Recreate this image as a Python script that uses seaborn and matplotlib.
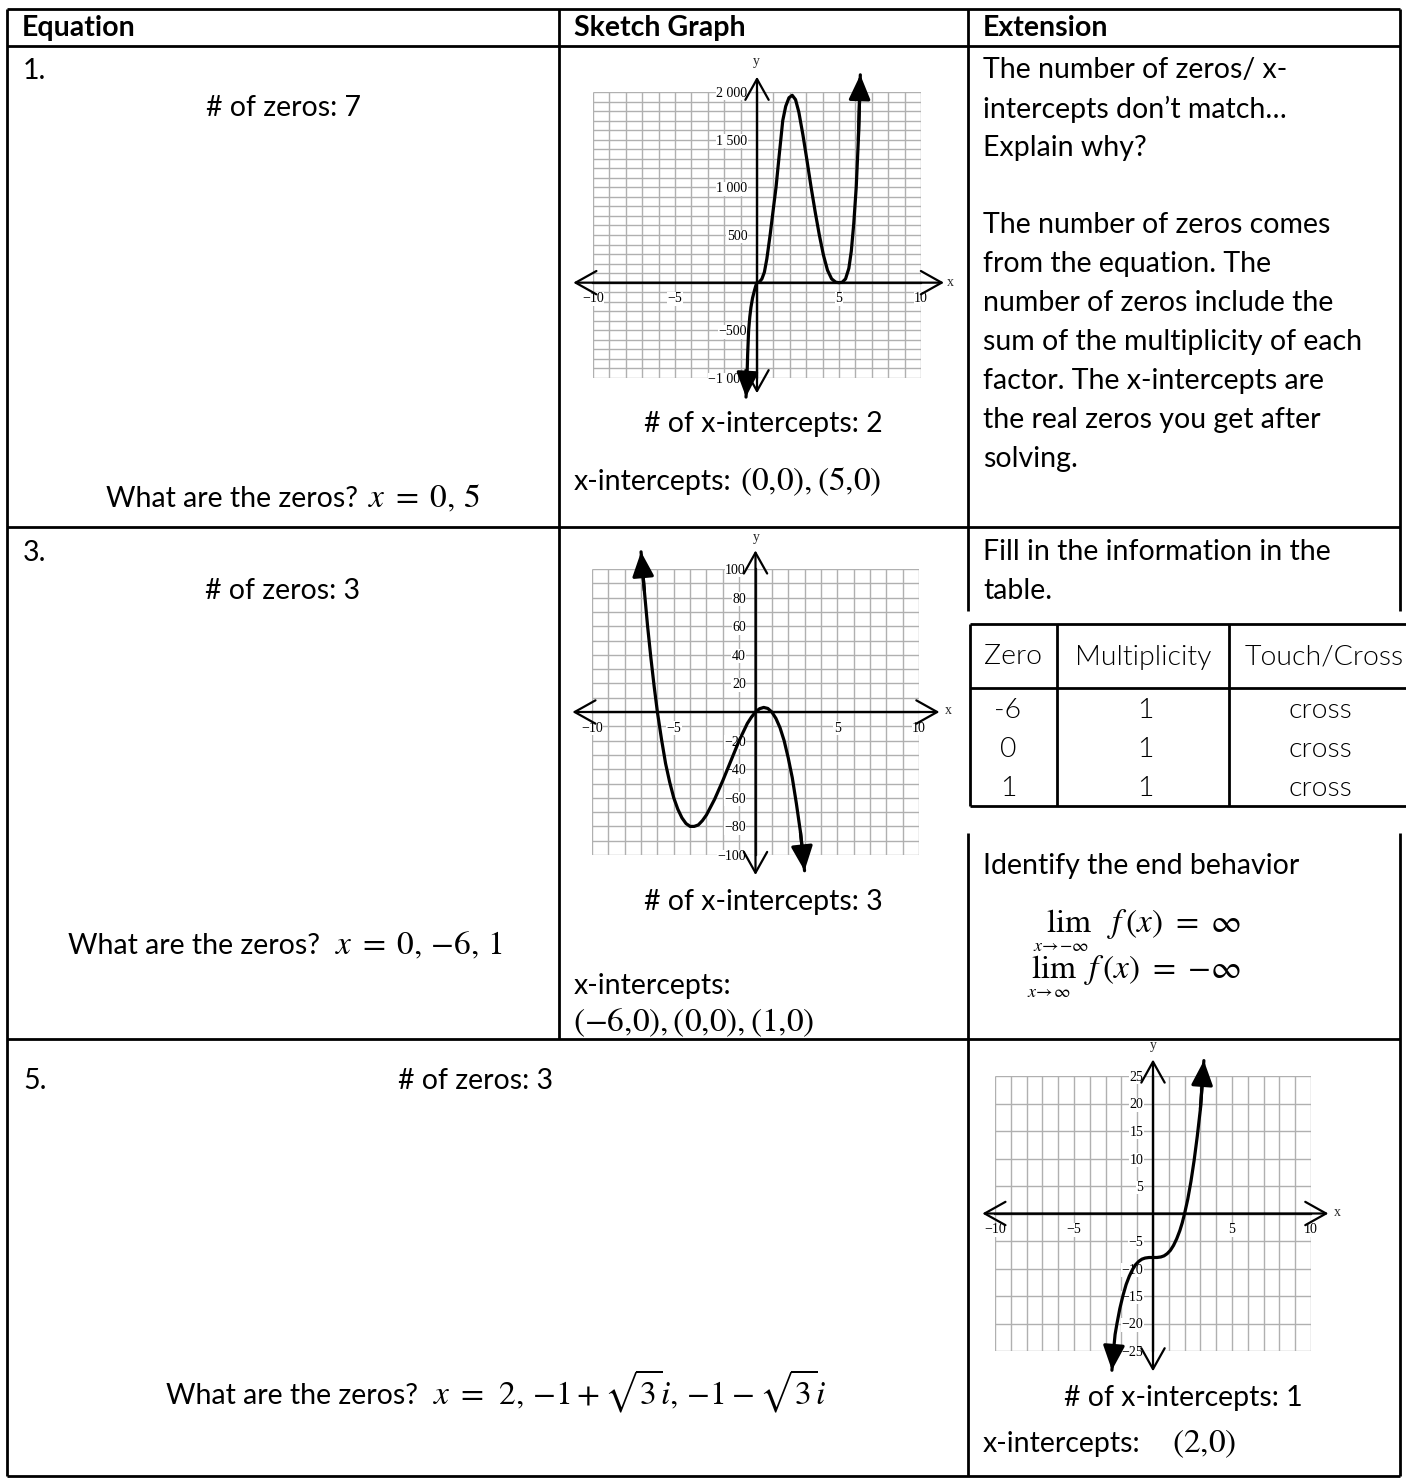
import numpy as np
import matplotlib
matplotlib.use('Agg')
import matplotlib.pyplot as plt
import seaborn as sns
from matplotlib.ticker import FixedLocator, FixedFormatter

# ---- curves read off the worksheet sketches ----
# problem 1: zeros at x = 0 and x = 5
G1_X = [-0.67, -0.63, -0.61, -0.57, -0.51, -0.44, -0.37, -0.27, -0.16, -0.07, 0.0,
        0.15, 0.3, 0.45, 0.6, 0.8, 1.0, 1.16, 1.35, 1.57, 1.75, 1.95, 2.15, 2.35,
        2.55, 2.8, 3.05, 3.3, 3.55, 3.8, 4.05, 4.3, 4.55, 4.8, 5.0, 5.2, 5.4, 5.6,
        5.75, 5.9, 6.05, 6.18, 6.3]
G1_Y = [-1200, -1080, -1000, -750, -500, -360, -260, -160, -85, -30, 0,
        8, 40, 110, 250, 500, 780, 1000, 1330, 1700, 1850, 1940, 1965, 1920,
        1790, 1550, 1280, 1000, 740, 500, 290, 130, 40, 5, 0, 5, 40, 150,
        330, 620, 1000, 1500, 2180]
G1_YTICKS = [-1000, -500, 500, 1000, 1500, 2000]
G1_YLABELS = ['\u22121 000', '\u2212500', '500', '1 000', '1 500', '2 000']

# problem 3: zeros at -6, 0, 1
G2_X = [-7.0, -6.8, -6.6, -6.4, -6.2, -6.0, -5.75, -5.5, -5.25, -5.0, -4.75, -4.5,
        -4.25, -4.0, -3.75, -3.5, -3.25, -3.0, -2.5, -2.0, -1.5, -1.0, -0.5, -0.25,
        0.0, 0.25, 0.5, 0.75, 1.0, 1.25, 1.5, 1.75, 2.0, 2.25, 2.5, 2.75, 3.0]
G2_Y = [112, 85, 60, 38, 18, 0, -19, -36, -49, -60, -68, -74,
        -78, -80, -80, -79, -76, -72, -61, -48, -34, -20, -8, -3.6,
        0, 2.3, 3.2, 2.5, 0, -4.5, -11, -20, -32, -46, -64, -84, -111]
G2_YTICKS = [-100, -80, -60, -40, -20, 20, 40, 60, 80, 100]
G2_YLABELS = ['\u2212100', '\u221280', '\u221260', '\u221240', '\u221220', '20', '40', '60', '80', '100']

# problem 5: single real zero at 2
G3_X = [-2.6, -2.5, -2.4, -2.28, -2.1, -1.9, -1.7, -1.5, -1.3, -1.1, -0.9, -0.7,
        -0.5, -0.25, 0.0, 0.25, 0.5, 0.7, 0.9, 1.1, 1.3, 1.5, 1.7, 1.85, 2.0,
        2.2, 2.4, 2.6, 2.8, 3.0, 3.22]
G3_Y = [-28.5, -25, -22, -20, -17.3, -14.9, -12.9, -11.4, -10.2, -9.3, -8.7, -8.3,
        -8.1, -8.0, -8, -8.0, -7.9, -7.7, -7.3, -6.7, -5.8, -4.6, -3.1, -1.7, 0,
        2.6, 5.8, 9.6, 14, 19, 27.8]
G3_YTICKS = [-25, -20, -15, -10, -5, 5, 10, 15, 20, 25]
G3_YLABELS = ['\u221225', '\u221220', '\u221215', '\u221210', '\u22125', '5', '10', '15', '20', '25']

X_TICKS = [-10, -5, 5, 10]
X_LABELS = ['\u221210', '\u22125', '5', '10']

# multiplicity table
ZEROS = ['-6', '0', '1']
MULTS = ['1', '1', '1']
BEHAV = ['cross', 'cross', 'cross']

sns.set_style('white')
plt.rcParams['font.family'] = ['Lato', 'DejaVu Sans']
plt.rcParams['mathtext.fontset'] = 'stix'

W, H = 1406, 1484
BODY = 20.5
MATH = 24
SERIF = 'Liberation Serif'
GRID = '#b0b0b0'

fig = plt.figure(figsize=(W / 100, H / 100), dpi=100)
bg = fig.add_axes([0, 0, 1, 1])
bg.set_xlim(0, W)
bg.set_ylim(H, 0)
bg.axis('off')


def txt(x, y, s, ha='left', size=BODY, va='center', **kw):
    bg.text(x, y, s, ha=ha, va=va, fontsize=size, color='black', **kw)


def hline(y, x0, x1, lw=2.0):
    bg.plot([x0, x1], [y, y], color='black', lw=lw, solid_capstyle='butt')


def vline(x, y0, y1, lw=2.0):
    bg.plot([x, x], [y0, y1], color='black', lw=lw, solid_capstyle='butt')


# main table frame
for yy in (9, 46, 527, 1039, 1476):
    hline(yy, 7, 1400)
vline(7, 9, 1476)
vline(559, 9, 1039)
vline(968, 9, 611)
vline(968, 833, 1476)
vline(1400, 9, 611)
vline(1400, 833, 1476)

# inner table (zero / multiplicity / touch-cross)
hline(624, 970, W)
hline(688, 970, W)
hline(806, 970, W)
for xx in (970, 1057, 1229):
    vline(xx, 624, 806)

# header
txt(22, 28, 'Equation', fontweight='bold')
txt(574, 28, 'Sketch Graph', fontweight='bold')
txt(983, 28, 'Extension', fontweight='bold')

# row 1
txt(23, 71, '1.')
txt(283, 108, '# of zeros: 7', ha='center')
txt(106, 507, 'What are the zeros?', va='baseline')
txt(368, 507, r'$x\;=\;0,\,5$', size=MATH, va='baseline')
txt(763, 424, '# of x-intercepts: 2', ha='center')
txt(574, 490, 'x-intercepts:', va='baseline')
txt(740, 490, r'$(0{,}0), (5{,}0)$', size=MATH, va='baseline')
ext_lines = ['The number of zeros/ x-', 'intercepts don\u2019t match\u2026', 'Explain why?']
for i, s in enumerate(ext_lines):
    txt(983, 70 + 39 * i, s)
ans_lines = ['The number of zeros comes', 'from the equation. The',
             'number of zeros include the', 'sum of the multiplicity of each',
             'factor. The x-intercepts are', 'the real zeros you get after', 'solving.']
for i, s in enumerate(ans_lines):
    txt(983, 225 + 39 * i, s)

# row 2
txt(23, 553, '3.')
txt(283, 591, '# of zeros: 3', ha='center')
txt(68, 954, 'What are the zeros?', va='baseline')
txt(335, 954, r'$x\;=\;0,\,{-6},\,1$', size=MATH, va='baseline')
txt(763, 902, '# of x-intercepts: 3', ha='center')
txt(574, 986, 'x-intercepts:')
txt(573, 1031, r'$(-6{,}0), (0{,}0), (1{,}0)$', size=MATH, va='baseline')
txt(983, 552, 'Fill in the information in the')
txt(983, 591, 'table.')

LIGHT = 300
txt(1013, 657, 'Zero', ha='center', fontweight=LIGHT)
txt(1143, 657, 'Multiplicity', ha='center', fontweight=LIGHT)
txt(1324, 657, 'Touch/Cross', ha='center', fontweight=LIGHT)
for i, (z, m, b) in enumerate(zip(ZEROS, MULTS, BEHAV)):
    yy = 711 + 38.5 * i
    txt(1008, yy, z, ha='center', fontweight=LIGHT)
    txt(1145, yy, m, ha='center', fontweight=LIGHT)
    txt(1320, yy, b, ha='center', fontweight=LIGHT)

txt(983, 866, 'Identify the end behavior')
txt(1046, 932, r'$\mathrm{lim}$', size=MATH, va='baseline')
txt(1033, 946, r'$x\!\rightarrow\!{-\infty}$', size=13)
txt(1107, 932, r'$f\,(x)\ =\ \infty$', size=MATH, va='baseline')
txt(1031, 978, r'$\mathrm{lim}$', size=MATH, va='baseline')
txt(1027, 992, r'$x\!\rightarrow\!\infty$', size=13)
txt(1084, 978, r'$f\,(x)\ =\ {-\infty}$', size=MATH, va='baseline')

# row 3
txt(23, 1081, '5.')
txt(398, 1081, '# of zeros: 3')
txt(166, 1404, 'What are the zeros?', va='baseline')
txt(433, 1404, r'$x\;=\;\,2,\,{-1}+\sqrt{3}i,\,{-1}-\sqrt{3}i$', size=MATH, va='baseline')
txt(1183, 1398, '# of x-intercepts: 1', ha='center')
txt(983, 1452, 'x-intercepts:', va='baseline')
txt(1172, 1452, r'$(2{,}0)$', size=MATH, va='baseline')


def draw_graph(box, ylim, ystep, yticks, ylabels, xs, ys, xarrow, yarrow, lab_y, lab_x):
    x0, y0, x1, y1 = box
    ax = fig.add_axes([x0 / W, 1 - y1 / H, (x1 - x0) / W, (y1 - y0) / H])
    ax.set_xlim(-10, 10)
    ax.set_ylim(*ylim)
    ax.patch.set_alpha(0)

    ax.vlines(np.arange(-10, 11), ylim[0], ylim[1], color=GRID, lw=1.0, zorder=0.5)
    ax.hlines(np.arange(ylim[0], ylim[1] + ystep / 2, ystep), -10, 10, color=GRID, lw=1.0, zorder=0.5)

    for side in ('top', 'right'):
        ax.spines[side].set_visible(False)
    ax.spines['left'].set_position(('data', 0))
    ax.spines['bottom'].set_position(('data', 0))
    ax.spines['left'].set_linewidth(1.6)
    ax.spines['bottom'].set_linewidth(1.6)

    ax.xaxis.set_major_locator(FixedLocator(X_TICKS))
    ax.xaxis.set_major_formatter(FixedFormatter(X_LABELS))
    ax.xaxis.set_minor_locator(FixedLocator([v for v in range(-9, 10) if v % 5]))
    ax.yaxis.set_major_locator(FixedLocator(yticks))
    ax.yaxis.set_major_formatter(FixedFormatter(ylabels))
    minor_y = [v for v in np.arange(ylim[0], ylim[1] + ystep / 2, ystep) if v != 0 and v not in yticks]
    ax.yaxis.set_minor_locator(FixedLocator(minor_y))
    ax.tick_params(axis='both', which='major', direction='inout', length=12, width=1.4,
                   labelsize=10, pad=1, colors='black')
    ax.tick_params(axis='x', which='minor', direction='inout', length=8, width=1.4)
    ax.tick_params(axis='y', which='minor', direction='inout', length=12, width=1.4)
    for lbl in ax.get_xticklabels() + ax.get_yticklabels():
        lbl.set_fontfamily(SERIF)
        lbl.set_bbox(dict(facecolor='white', edgecolor='none', pad=0.3))

    ap = dict(arrowstyle='<->,head_length=0.75,head_width=0.42', lw=1.6, color='black',
              shrinkA=0, shrinkB=0, mutation_scale=20)
    ax.annotate('', xy=(xarrow[1], 0), xytext=(xarrow[0], 0), arrowprops=ap, annotation_clip=False)
    ax.annotate('', xy=(0, yarrow[1]), xytext=(0, yarrow[0]), arrowprops=ap, annotation_clip=False)

    sns.lineplot(x=xs, y=ys, ax=ax, color='black', lw=2.3, sort=False, estimator=None,
                 zorder=5, clip_on=False)
    hp = dict(arrowstyle='-|>,head_length=0.75,head_width=0.33', lw=2.3, color='black',
              shrinkA=0, shrinkB=0, mutation_scale=20)
    ax.annotate('', xy=(xs[-1], ys[-1]), xytext=(xs[-2], ys[-2]), arrowprops=hp,
                annotation_clip=False, zorder=6)
    ax.annotate('', xy=(xs[0], ys[0]), xytext=(xs[1], ys[1]), arrowprops=hp,
                annotation_clip=False, zorder=6)

    bg.text(lab_y[0], lab_y[1], 'y', ha='center', va='center', fontsize=10, family=SERIF)
    bg.text(lab_x[0], lab_x[1], 'x', ha='center', va='center', fontsize=10, family=SERIF)
    return ax


draw_graph((593, 92, 921, 378), (-1000, 2000), 100, G1_YTICKS, G1_YLABELS, G1_X, G1_Y,
           (-11.2, 11.4), (-1160, 2160), (756, 62), (950, 283))
draw_graph((592, 569, 919, 855), (-100, 100), 10, G2_YTICKS, G2_YLABELS, G2_X, G2_Y,
           (-11.2, 11.25), (-114, 113), (756, 537), (948, 711))
draw_graph((995, 1076, 1311, 1351), (-25, 25), 5, G3_YTICKS, G3_YLABELS, G3_X, G3_Y,
           (-10.8, 11.1), (-28.7, 28), (1153, 1045), (1337, 1212))

fig.savefig('out.png', dpi=100)
